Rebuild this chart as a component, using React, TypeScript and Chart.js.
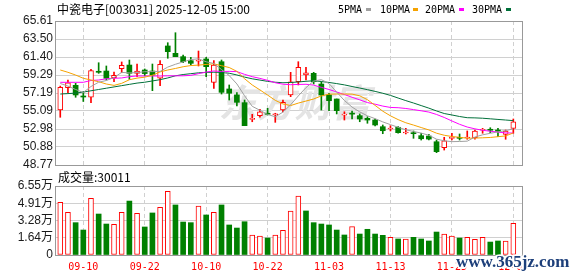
import React, { useEffect, useRef } from 'react';
import { Chart, registerables } from 'chart.js';

Chart.register(...registerables);

const stockName = '中瓷电子';
const stockCode = '003031';
const quoteTime = '2025-12-05 15:00';
const watermark = '东方财富';
const siteMark = 'www.365jz.com';

const tickIndex = [3, 11, 19, 27, 35, 43, 51, 59];
const tickLabels = ['09-10', '09-22', '10-10', '10-22', '11-03', '11-13', '11-25', '12-05'];

const priceTicks = [48.77, 50.88, 52.98, 55.09, 57.19, 59.29, 61.4, 63.5, 65.61];
const priceTickLabels = ['48.77', '50.88', '52.98', '55.09', '57.19', '59.29', '61.40', '63.50', '65.61'];
const volTicks = [0, 16375, 32750, 49125, 65500];
const volTickLabels = ['0', '1.64万', '3.28万', '4.91万', '6.55万'];

const maNames = ['5PMA', '10PMA', '20PMA', '30PMA'];

const openP = [55.20, 57.81, 58.09, 56.84, 56.69, 59.73, 59.76, 58.98, 60.03, 60.46,
  59.49, 59.88, 59.76, 58.91, 62.69, 61.83, 61.44, 60.97, 60.90, 61.17,
  58.44, 60.85, 57.66, 56.96, 56.06, 54.11, 54.54, 54.82, 54.65, 55.20,
  56.96, 58.51, 59.29, 59.49, 58.24, 56.96, 56.49, 54.60, 54.80, 54.54,
  54.23, 54.03, 53.25, 52.98, 53.18, 52.51, 52.55, 52.20, 52.16, 51.49,
  50.79, 51.89, 52.00, 51.93, 51.96, 52.83, 52.94, 52.86, 52.36, 53.06];

const closeP = [57.86, 58.39, 56.96, 56.72, 59.80, 59.61, 58.91, 59.26, 60.43, 59.49,
  59.76, 59.46, 59.29, 60.55, 62.02, 61.44, 60.85, 60.66, 60.97, 60.27,
  60.46, 57.27, 57.16, 56.10, 53.37, 54.23, 55.00, 54.70, 54.74, 56.10,
  58.51, 60.20, 59.56, 58.51, 56.96, 56.29, 55.12, 54.68, 54.72, 54.15,
  54.03, 53.45, 52.78, 53.06, 52.55, 52.62, 52.43, 51.84, 51.80, 50.33,
  51.61, 51.96, 51.89, 52.01, 52.75, 52.90, 52.83, 52.71, 52.75, 53.83];

const highP = [58.00, 58.71, 58.33, 57.34, 59.96, 60.73, 60.35, 59.65, 60.82, 61.05,
  60.58, 60.00, 60.58, 60.97, 63.07, 64.24, 61.63, 61.36, 62.10, 61.36,
  60.97, 61.05, 58.13, 57.23, 56.37, 54.70, 55.28, 55.40, 54.82, 56.37,
  59.61, 60.85, 60.20, 59.61, 58.51, 57.16, 56.49, 55.00, 55.09, 54.74,
  54.42, 54.15, 53.45, 53.37, 53.25, 53.06, 52.75, 52.48, 52.36, 51.69,
  52.01, 52.48, 52.40, 52.75, 52.86, 53.06, 53.13, 53.06, 52.86, 54.15];

const lowP = [54.35, 57.23, 56.69, 56.20, 56.06, 59.49, 58.71, 58.51, 59.56, 58.79,
  59.10, 59.18, 57.46, 58.04, 61.25, 61.44, 60.73, 60.46, 60.35, 59.10,
  57.74, 57.07, 56.37, 55.67, 53.37, 53.83, 54.35, 54.62, 53.76, 54.99,
  56.76, 58.13, 58.71, 58.24, 55.20, 55.12, 54.74, 54.03, 54.15, 53.83,
  53.65, 53.33, 52.43, 52.75, 52.48, 52.40, 51.89, 51.69, 51.69, 50.21,
  50.52, 51.69, 51.69, 51.78, 51.78, 52.48, 52.55, 52.08, 51.78, 52.48];

const volume = [50000, 40500, 30700, 23700, 53800, 38900, 29400, 29100, 40500, 51200,
  39600, 26600, 39900, 45200, 60400, 47500, 31300, 30700, 46500, 38000,
  40500, 47500, 28500, 25600, 31600, 19000, 18000, 16100, 19000, 23400,
  41800, 56000, 41800, 30700, 29400, 28500, 23700, 19000, 26900, 19900,
  24400, 19900, 18700, 16800, 15200, 15200, 16800, 15200, 13300, 21800,
  19900, 18000, 16100, 16800, 14900, 16800, 12300, 13300, 13300, 30011];

const ma5 = [58.30, 58.00, 57.60, 57.25, 57.95, 58.45, 58.65, 59.00, 59.60, 59.54,
  59.57, 59.68, 59.69, 59.71, 60.22, 60.55, 60.83, 61.10, 61.19, 60.84,
  60.64, 59.93, 59.23, 58.25, 56.87, 55.63, 55.17, 54.68, 54.41, 54.95,
  55.81, 56.85, 57.82, 58.58, 58.75, 58.30, 57.29, 56.32, 55.54, 54.98,
  54.52, 54.19, 53.81, 53.49, 53.18, 52.89, 52.69, 52.50, 52.25, 51.79,
  51.60, 51.50, 51.52, 51.56, 52.04, 52.30, 52.48, 52.64, 52.79, 53.00];

const ma10 = [59.88, 59.61, 59.29, 58.91, 58.71, 58.51, 58.24, 58.08, 58.32, 58.74,
  58.93, 59.04, 59.27, 59.66, 59.88, 60.06, 60.26, 60.40, 60.45, 60.53,
  60.60, 60.38, 60.17, 59.72, 58.86, 58.13, 57.55, 56.95, 56.33, 55.91,
  55.72, 56.01, 56.25, 56.49, 56.85, 57.06, 57.07, 57.07, 57.06, 56.86,
  56.41, 55.74, 55.06, 54.52, 54.08, 53.71, 53.44, 53.15, 52.87, 52.49,
  52.25, 52.10, 52.01, 51.90, 51.92, 51.95, 51.99, 52.08, 52.17, 52.52];

const ma20 = [58.44, 58.44, 58.44, 58.44, 58.65, 58.71, 58.85, 58.91, 58.95, 59.10,
  59.18, 59.18, 59.18, 59.18, 59.20, 59.20, 59.20, 59.25, 59.45, 59.64,
  59.77, 59.71, 59.72, 59.69, 59.37, 59.10, 58.90, 58.67, 58.39, 58.22,
  58.16, 58.19, 58.21, 58.11, 57.85, 57.60, 57.31, 57.01, 56.69, 56.39,
  56.07, 55.88, 55.66, 55.50, 55.47, 55.38, 55.25, 55.11, 54.96, 54.68,
  54.33, 53.92, 53.53, 53.21, 53.00, 52.83, 52.72, 52.62, 52.52, 52.51];

const ma30 = [57.07, 57.12, 57.18, 57.30, 57.45, 57.60, 57.75, 57.90, 58.05, 58.20,
  58.35, 58.45, 58.60, 58.75, 58.95, 59.20, 59.35, 59.45, 59.55, 59.60,
  59.62, 59.60, 59.50, 59.30, 59.05, 58.85, 58.70, 58.55, 58.45, 58.39,
  58.42, 58.48, 58.56, 58.62, 58.53, 58.42, 58.29, 58.14, 57.95, 57.77,
  57.58, 57.38, 57.16, 56.91, 56.60, 56.30, 56.02, 55.72, 55.42, 55.09,
  54.79, 54.62, 54.44, 54.30, 54.28, 54.24, 54.17, 54.10, 54.03, 53.96];

const RED = '#ff0000';
const GREEN = '#008000';
const MA_COLORS = ['#a0a0a0', '#f5a200', '#ff00ff', '#00703a'];
const GRID = '#d0d0d0';
const FRAME = '#999999';
const LABEL = '#1a1a1a';
const X_MIN = -0.686;
const X_MAX = 60.13;
const W = 578;

const frame = {
  id: 'frame',
  afterDatasetsDraw(chart: any) {
    const { ctx, chartArea: a } = chart;
    ctx.save();
    ctx.strokeStyle = FRAME;
    ctx.lineWidth = 1;
    ctx.strokeRect(a.left + 0.5, a.top + 0.5, a.right - a.left, a.bottom - a.top);
    ctx.restore();
  },
};

const priceDecor = {
  id: 'priceDecor',
  beforeDatasetsDraw(chart: any) {
    const { ctx, chartArea: a } = chart;
    ctx.save();
    ctx.font = 'italic bold 38px "Noto Sans CJK SC"';
    ctx.fillStyle = '#e4e4e4';
    ctx.textAlign = 'center';
    ctx.textBaseline = 'middle';
    ctx.fillText(watermark, (a.left + a.right) / 2 + 6, (a.top + a.bottom) / 2 + 10);
    ctx.restore();
  },
  afterDraw(chart: any) {
    const { ctx } = chart;
    ctx.save();
    ctx.fillStyle = '#000';
    ctx.textBaseline = 'alphabetic';
    ctx.font = '12px "Noto Sans CJK SC"';
    ctx.fillText(`${stockName}[${stockCode}] ${quoteTime}`, 57, 14);
    const lx = [338, 380, 425, 472];
    const rx = [366, 413, 459, 506];
    ctx.font = '10px "DejaVu Sans Mono"';
    maNames.forEach((n, i) => {
      ctx.fillStyle = '#000';
      ctx.fillText(n, lx[i], 13);
      ctx.fillStyle = MA_COLORS[i];
      ctx.fillRect(rx[i], 8, 5, 3);
    });
    ctx.restore();
  },
};

const volDecor = {
  id: 'volDecor',
  afterDraw(chart: any) {
    const { ctx } = chart;
    ctx.save();
    ctx.fillStyle = '#000';
    ctx.font = '12px "Noto Sans CJK SC"';
    ctx.textBaseline = 'alphabetic';
    ctx.fillText(`成交量:${volume[volume.length - 1]}`, 58, 12);
    ctx.font = 'bold 17px "Liberation Serif"';
    ctx.lineWidth = 3;
    ctx.strokeStyle = '#ffffff';
    ctx.strokeText(siteMark, 456, 97);
    ctx.fillStyle = '#1d3f7a';
    ctx.fillText(siteMark, 456, 97);
    ctx.restore();
  },
};

const xScale = (showLabels: boolean) => ({
  type: 'linear',
  min: X_MIN,
  max: X_MAX,
  offset: false,
  afterBuildTicks: (s: any) => { s.ticks = tickIndex.map((v) => ({ value: v })); },
  afterFit: (s: any) => { s.height = showLabels ? 21 : 0; s.paddingLeft = 0; s.paddingRight = 0; },
  ticks: {
    display: showLabels,
    autoSkip: false,
    maxRotation: 0,
    padding: 6,
    color: RED,
    font: { family: '"DejaVu Sans Mono", monospace', size: 10 },
    callback: (_v: any, i: number) => tickLabels[i],
  },
  grid: { color: GRID, lineWidth: 1, drawTicks: false, offset: false },
  border: { display: false, dash: [4, 3] },
});

export default function App() {
  const priceRef = useRef<HTMLCanvasElement>(null);
  const volRef = useRef<HTMLCanvasElement>(null);

  useEffect(() => {
    const up = closeP.map((c, i) => c >= openP[i]);
    const volUp = closeP.map((c, i) => (i === 0 ? up[0] : c >= closeP[i - 1]));
    const maSets = [ma5, ma10, ma20, ma30].map((arr, k) => ({
      type: 'line',
      label: maNames[k],
      data: arr.map((v, i) => ({ x: i, y: v })),
      borderColor: MA_COLORS[k],
      borderWidth: 1,
      pointRadius: 0,
      tension: 0,
      order: 0,
    }));

    const price = new Chart(priceRef.current as HTMLCanvasElement, {
      type: 'bar',
      data: {
        datasets: [
          ...maSets,
          {
            type: 'bar',
            label: 'body',
            data: openP.map((o, i) => ({ x: i, y: [o, closeP[i]] })),
            backgroundColor: up.map((u) => (u ? '#ffffff' : GREEN)),
            borderColor: up.map((u) => (u ? RED : GREEN)),
            borderWidth: up.map((u) => (u ? 1 : 0)),
            borderSkipped: false,
            barThickness: 5,
            grouped: false,
            minBarLength: 1,
            order: 1,
          },
          {
            type: 'bar',
            label: 'wick',
            data: lowP.map((l, i) => ({ x: i, y: [l, highP[i]] })),
            backgroundColor: up.map((u) => (u ? RED : GREEN)),
            borderWidth: 0,
            barThickness: 1,
            grouped: false,
            order: 2,
          },
        ] as any,
      },
      options: {
        animation: false,
        responsive: false,
        maintainAspectRatio: false,
        layout: { padding: { left: 0, right: 56, top: 21, bottom: 11 } },
        plugins: { legend: { display: false }, tooltip: { enabled: false }, title: { display: false } },
        scales: {
          x: xScale(false) as any,
          y: {
            min: priceTicks[0],
            max: priceTicks[priceTicks.length - 1],
            afterBuildTicks: (s: any) => { s.ticks = priceTicks.map((v) => ({ value: v })); },
            afterFit: (s: any) => { s.width = 55; s.paddingTop = 0; s.paddingBottom = 0; },
            ticks: {
              autoSkip: false,
              padding: 2,
              color: LABEL,
              font: { family: '"Liberation Sans", "Noto Sans CJK SC"', size: 12 },
              callback: (_v: any, i: number) => priceTickLabels[i],
            },
            grid: { color: GRID, drawTicks: false },
            border: { display: false },
          },
        },
      } as any,
      plugins: [frame, priceDecor],
    });

    const vol = new Chart(volRef.current as HTMLCanvasElement, {
      type: 'bar',
      data: {
        datasets: [
          {
            type: 'bar',
            label: '成交量',
            data: volume.map((v, i) => ({ x: i, y: v })),
            backgroundColor: volUp.map((u) => (u ? '#ffffff' : GREEN)),
            borderColor: volUp.map((u) => (u ? RED : GREEN)),
            borderWidth: volUp.map((u) => (u ? 1 : 0)),
            borderSkipped: false,
            barThickness: 5,
            grouped: false,
          },
        ] as any,
      },
      options: {
        animation: false,
        responsive: false,
        maintainAspectRatio: false,
        layout: { padding: { left: 0, right: 56, top: 16, bottom: 0 } },
        plugins: { legend: { display: false }, tooltip: { enabled: false }, title: { display: false } },
        scales: {
          x: xScale(true) as any,
          y: {
            min: volTicks[0],
            max: volTicks[volTicks.length - 1],
            afterBuildTicks: (s: any) => { s.ticks = volTicks.map((v) => ({ value: v })); },
            afterFit: (s: any) => { s.width = 55; s.paddingTop = 0; s.paddingBottom = 0; },
            ticks: {
              autoSkip: false,
              padding: 2,
              color: LABEL,
              font: { family: '"Liberation Sans", "Noto Sans CJK SC"', size: 12 },
              callback: (_v: any, i: number) => volTickLabels[i],
            },
            grid: { color: GRID, drawTicks: false },
            border: { display: false },
          },
        },
      } as any,
      plugins: [frame, volDecor],
    });

    return () => {
      price.destroy();
      vol.destroy();
    };
  }, []);

  return (
    <div style={{ position: 'fixed', left: 0, top: 0, width: W, height: 276, background: '#fff', overflow: 'hidden' }}>
      <canvas ref={priceRef} width={W} height={176} style={{ position: 'absolute', left: 0, top: 0, width: W, height: 176 }} />
      <canvas ref={volRef} width={W} height={106} style={{ position: 'absolute', left: 0, top: 170, width: W, height: 106 }} />
    </div>
  );
}
